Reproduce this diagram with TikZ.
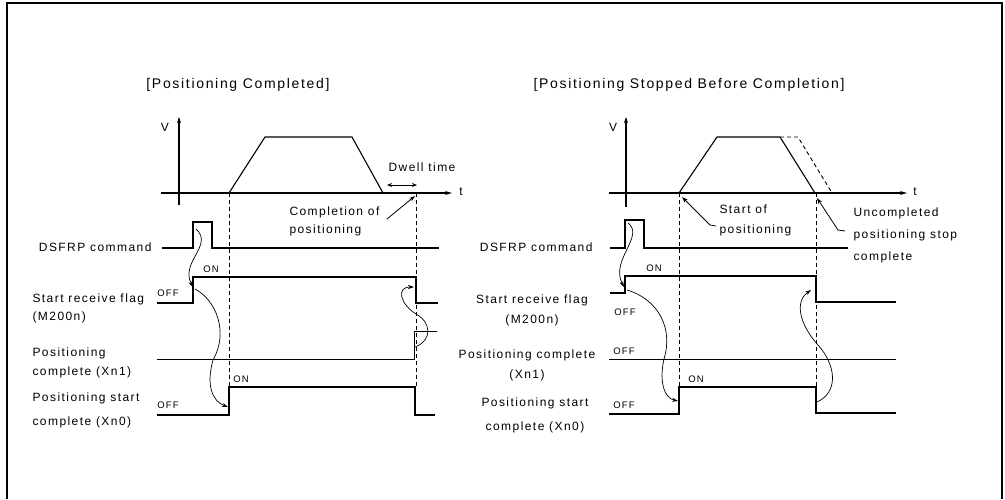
\documentclass[tikz,border=0pt]{standalone}
\usepackage{fontspec}
\usetikzlibrary{arrows.meta}
\newfontfamily\lab{Liberation Sans}[LetterSpace=12]
\newcommand{\labsize}{\lab\fontsize{12}{18}\selectfont}
\newcommand{\tagsize}{\lab\fontsize{9.5}{10}\selectfont}

\begin{document}
\begin{tikzpicture}[x=1pt,y=-1pt,font=\labsize,
  sig/.style={line width=1.1pt},
  guide/.style={line width=0.9pt,dash pattern=on 4pt off 3pt},
  curv/.style={line width=0.7pt,-{Stealth[length=6pt,width=4pt]}},
  lead/.style={line width=0.8pt,-{Stealth[length=6pt,width=4pt]}},
  tag/.style={font=\tagsize,inner sep=0pt}]
  \useasboundingbox (0,0) rectangle (1005,499);
  \draw[line width=1.2pt] (7,499) -- (7,3) -- (1002,3) -- (1002,499);

  % titles
  \node[font=\lab\fontsize{14}{16}\selectfont] (ttlA) at (238,85) {[Positioning Completed]};
  \node[font=\lab\fontsize{14}{16}\selectfont] (ttlB) at (689,85) {[Positioning Stopped Before Completion]};

  % ---- positioning completed ----
  \draw[sig,-{Stealth[length=6pt,width=4pt]}] (179,205) -- (179,117);
  \node (vA) at (165,127) {V};
  \draw[sig,-{Stealth[length=7pt,width=4pt]}] (161,193) -- (452,193);
  \node (tA) at (461,192) {t};
  \draw[sig] (229,193) -- (265,137) -- (352,137) -- (383,193);
  \draw[line width=0.8pt,{Stealth[length=5pt,width=4pt]}-{Stealth[length=5pt,width=4pt]}] (387,185) -- (417,185);
  \node (dwell) at (422,167) {Dwell time};
  \node[align=left,anchor=west] (compl) at (286,221) {Completion of\\positioning};
  \coordinate (complTip) at (415,196);
  \draw[lead] (compl.east) ++(4,-2) -- (complTip);
  \draw[guide] (229,193) -- (229,387);
  \draw[guide] (416,193) -- (416,387);

  \node[anchor=east] (cmdA) at (155,247) {DSFRP command};
  \node[anchor=west,align=left] (flagA) at (29,308) {Start receive flag\\(M200n)};
  \node[anchor=west,align=left,font=\lab\fontsize{12}{19}\selectfont] (xn1A) at (29,363) {Positioning\\complete (Xn1)};
  \node[anchor=west,align=left,font=\lab\fontsize{12}{24}\selectfont] (xn0A) at (29,410) {Positioning start\\complete (Xn0)};

  \draw[sig] (162,248) -- (193,248) -- (193,222) -- (212,222) -- (212,248) -- (439,248);
  \draw[sig] (157,303) -- (193,303) -- (193,277) -- (416,277) -- (416,303) -- (438,303);
  \draw[line width=0.9pt] (157,359) -- (414,359) -- (414,331) -- (437,331);
  \draw[sig] (157,415) -- (229,415) -- (229,387) -- (415,387) -- (415,415) -- (435,415);

  \node[tag] (offA1) at (168,293) {OFF};
  \node[tag] (onA1) at (211,269) {ON};
  \node[tag] (offA2) at (168,405) {OFF};
  \node[tag] (onA2) at (241,379) {ON};

  \coordinate (cmdUpA) at (196,229);
  \coordinate (flagUpA) at (193,287);
  \coordinate (flagUpA2) at (195,289);
  \coordinate (xn0UpA) at (228,407);
  \coordinate (xn1UpA) at (415,347);
  \coordinate (flagDnA) at (414,287);
  \draw[curv] (cmdUpA) .. controls (214,245) and (180,262) .. (flagUpA);
  \draw[curv] (flagUpA2) .. controls (216,300) and (229,332) .. (213,360) .. controls (206,385) and (212,401) .. (xn0UpA);
  \draw[curv] (xn1UpA) .. controls (433,340) and (431,322) .. (416,314) .. controls (400,304) and (396,287) .. (flagDnA);

  % ---- positioning stopped before completion ----
  \draw[sig,-{Stealth[length=6pt,width=4pt]}] (626,207) -- (626,117);
  \node (vB) at (613,127) {V};
  \draw[sig,-{Stealth[length=7pt,width=4pt]}] (609,193) -- (907,193);
  \node (tB) at (915,192) {t};
  \draw[sig] (679,193) -- (717,137) -- (780,137) -- (815,193);
  \draw[guide] (780,137) -- (798,137) -- (832,193);
  \draw[guide] (679,193) -- (679,387);
  \draw[guide] (816,193) -- (816,387);

  \node[align=left,anchor=west,font=\lab\fontsize{12}{20}\selectfont] (startB) at (716,220) {Start of\\positioning};
  \coordinate (startTip) at (682,197);
  \draw[lead] (startB.west) ++(0,6) -- ++(-6,-1) -- (startTip);
  \node[align=left,anchor=west,font=\lab\fontsize{12}{22}\selectfont] (stopB) at (850,235) {Uncompleted\\positioning stop\\complete};
  \coordinate (stopTip) at (817,198);
  \draw[lead] (845,231) -- (838,230) -- (stopTip);

  \node[anchor=east] (cmdB) at (596,247) {DSFRP command};
  \node[align=center,font=\lab\fontsize{12}{20}\selectfont] (flagB) at (532,310) {Start receive flag\\(M200n)};
  \node[align=center,font=\lab\fontsize{12}{20}\selectfont] (xn1B) at (527,365) {Positioning complete\\(Xn1)};
  \node[align=center,font=\lab\fontsize{12}{24}\selectfont] (xn0B) at (535,415) {Positioning start\\complete (Xn0)};

  \draw[sig] (610,248) -- (625,248) -- (625,220) -- (644,220) -- (644,248) -- (848,248);
  \draw[sig] (610,293) -- (625,293) -- (625,276) -- (816,276) -- (816,302) -- (896,302);
  \draw[line width=0.9pt] (609,359) -- (896,359);
  \draw[sig] (609,414) -- (679,414) -- (679,387) -- (816,387) -- (816,413) -- (896,413);

  \node[tag] (offB1) at (625,312) {OFF};
  \node[tag] (onB1) at (654,268) {ON};
  \node[tag] (offB2) at (624,351) {OFF};
  \node[tag] (offB3) at (624,405) {OFF};
  \node[tag] (onB2) at (696,379) {ON};

  \coordinate (cmdUpB) at (628,223);
  \coordinate (flagUpB) at (624,287);
  \coordinate (flagUpB2) at (627,290);
  \coordinate (xn0UpB) at (678,401);
  \coordinate (xn0DnB) at (817,402);
  \coordinate (flagDnB) at (811,290);
  \draw[curv] (cmdUpB) .. controls (645,236) and (610,260) .. (flagUpB);
  \draw[curv] (flagUpB2) .. controls (660,300) and (673,330) .. (664,359) .. controls (659,381) and (664,398) .. (xn0UpB);
  \draw[curv] (xn0DnB) .. controls (839,392) and (836,365) .. (818,345) .. controls (800,325) and (794,302) .. (flagDnB);
\end{tikzpicture}
\end{document}
